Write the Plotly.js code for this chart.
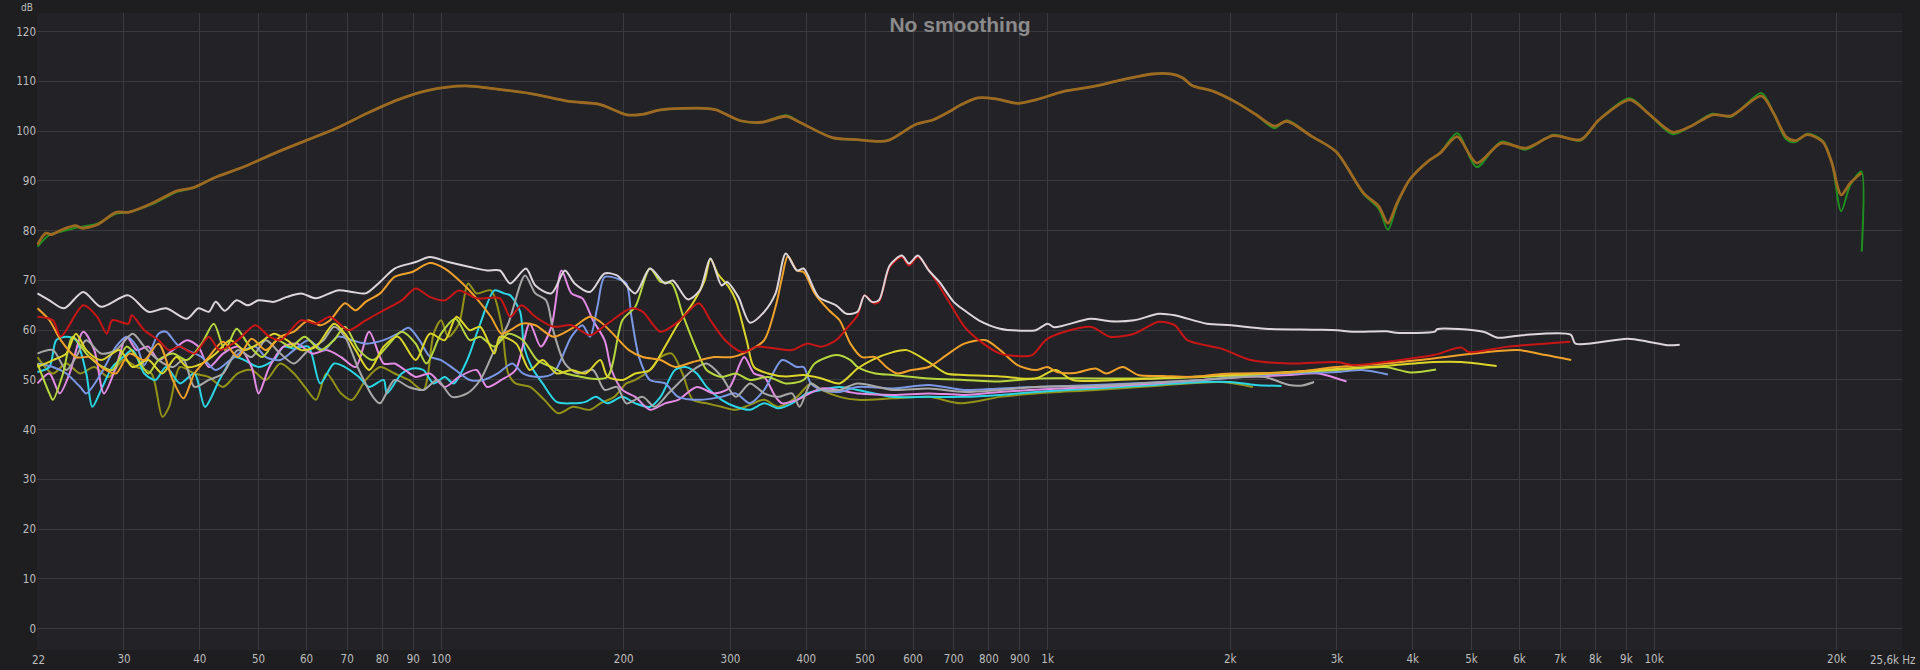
<!DOCTYPE html>
<html>
<head>
<meta charset="utf-8">
<script src="https://cdn.plot.ly/plotly-3.0.1.min.js"></script>
<style>
  html, body { margin: 0; padding: 0; background: #1e1d20; }
  #chart { width: 1920px; height: 670px; }
</style>
</head>
<body>
<div id="chart"></div>
<script>
// ---- Data (frequency Hz, level dB) ----
const topPts = [[21.6,77.2],[22.3,79.5],[22.8,79.2],[23.6,80.1],[25,81],[25.6,80.5],[27.1,81.2],[29.1,83.7],[30.5,83.7],[33.5,85.6],[36.7,88],[38.9,88.6],[42.2,90.6],[47.4,92.9],[53.2,95.6],[59.8,98.1],[67.2,100.6],[75.5,103.6],[84.8,106.3],[95.2,108.2],[109.5,109.1],[122.9,108.5],[141.3,107.5],[162.5,106],[182.5,105.4],[202.6,103.3],[214.8,103.4],[230.2,104.3],[271,104.6],[284,104.3],[311.6,102.1],[338,101.8],[371,103],[393,101.6],[441.6,98.7],[484.6,98.3],[544.4,98.1],[604.5,101.3],[648,102.3],[690,104],[719.4,105.3],[767,106.7],[822,106.5],[892,105.6],[956,106.3],[1062,108],[1179,108.9],[1324,110.3],[1487,111.5],[1595,111.5],[1671,110.7],[1730,109.2],[1877,108],[2060,105.6],[2208,103.3],[2367,101],[2480,102],[2722,99],[2988,95.9],[3316,87.6],[3516,84.9],[3640,81.5],[3770,85.6],[3950,90.2],[4233,93.9],[4436,95.6],[4734,98.9],[5100,93.6],[5595,97.6],[6142,96.6],[6820,99.1],[7570,98.3],[8115,102.3],[9118,106.3],[9777,103.6],[10730,99.8],[11500,101],[12480,103.3],[13390,103.1],[15030,107.1],[15740,103.6],[16500,98.9],[17080,98.1],[17890,99.3],[18970,97.9],[19640,93.6],[20340,87.2],[21060,89.6],[21960,91.6]];

const greenPts = [[21.6,76.8],[22.3,78.6],[22.8,79.4],[23.6,79.8],[25,80.6],[25.6,80.8],[27.1,81.4],[29.1,83.4],[30.5,83.7],[33.5,85.4],[36.7,87.8],[38.9,88.5],[42.2,90.6],[47.4,92.9],[53.2,95.6],[59.8,98.1],[67.2,100.6],[75.5,103.6],[84.8,106.3],[95.2,108.2],[109.5,109.1],[122.9,108.5],[141.3,107.5],[162.5,106],[182.5,105.4],[202.6,103.3],[214.8,103.4],[230.2,104.3],[271,104.6],[284,104.3],[311.6,102.1],[338,101.8],[371,103.2],[393,101.6],[441.6,98.7],[484.6,98.3],[544.4,98.1],[604.5,101.3],[648,102.3],[690,104],[719.4,105.3],[767,106.7],[822,106.5],[892,105.6],[956,106.3],[1062,108],[1179,108.9],[1324,110.3],[1487,111.5],[1595,111.5],[1671,110.7],[1730,109.2],[1877,108],[2060,105.6],[2208,103.3],[2367,100.6],[2480,102.2],[2722,99],[2988,95.9],[3316,87.4],[3516,84.4],[3640,80.2],[3770,85.2],[3950,90.2],[4233,93.9],[4436,95.6],[4734,99.6],[5100,92.8],[5595,97.9],[6142,96.3],[6820,99.3],[7570,98.1],[8115,102.3],[9118,106.6],[9777,103.6],[10730,99.4],[11500,101],[12480,103.5],[13390,102.9],[15030,107.7],[15740,103.6],[16500,98.4],[17080,97.8],[17890,99.5],[18970,98.1],[19640,93.6],[20340,83.9],[21060,89.2],[21960,91.9],[21990,75.8]];

const whitePts = [[21.6,67.4],[22.6,66],[23.9,64.4],[25.7,67.7],[27.5,64.7],[30.5,67],[32.9,63.7],[35.2,64.4],[38.1,62.3],[39.8,64.4],[41.4,63.7],[42.5,65.7],[44,63.9],[46,66],[48,65],[50,66],[53,65.7],[55.7,66.7],[58.8,67.4],[62.2,66.4],[67.5,68],[71.3,67.7],[75.1,67.4],[79.3,69.7],[83.8,72.4],[90.8,73.7],[95.8,74.7],[102.8,73.7],[111.5,72.7],[119,72],[125,72],[130,69.4],[138,72.4],[143,69],[152,67.4],[160,72],[166,69.4],[176,67.7],[186,71.4],[195,71],[209,67.4],[221,72.4],[234,69.4],[241,70],[255,66.2],[267,68],[278,74.4],[290,69],[296,69.7],[309,66.7],[323,61.5],[341,63.7],[356,67.4],[370,75.4],[386,72],[396,72.4],[419,66.7],[448,65],[466,63.3],[486,63.7],[499,67],[513,65.7],[527,66],[549,73],[575,75],[591,73.4],[611,75],[637,72],[663,69.7],[700,65.7],[729,64],[770,62],[835,60.3],[905,59.9],[956,60],[1000,61.3],[1025,60.6],[1177,62.3],[1266,61.8],[1389,62],[1525,63.3],[1620,63],[1830,61.3],[2008,61],[2284,60.3],[2745,60.1],[3003,60],[3181,59.7],[3619,59.8],[3755,59.5],[4349,59.7],[4388,60.2],[5229,59.7],[5525,58.5],[6059,59],[7285,59.1],[7420,57.3],[9050,58.3],[9772,57.7],[10520,57],[11020,57.1]];

const grayPts = [[21.6,55.3],[22.9,56],[24.1,52],[25,54.6],[26,58],[27.5,55.3],[29.1,56],[31,59.3],[32.4,56.7],[34.2,54],[36.1,52.6],[37.6,54],[39.2,48.6],[41.4,50],[43.7,51.3],[46.2,56],[48.7,54.6],[51.4,58],[54.3,55.3],[57.2,53.3],[60.4,56],[64,58],[66.6,60.7],[69.4,58.7],[73.2,52],[77.2,46.6],[79.3,45.3],[83.8,50],[88.4,48.6],[93.5,48],[98.6,50],[104.2,46.6],[110.4,47.3],[116,50],[122.4,56],[129,61.3],[137.5,71],[143,67.4],[149,66],[153,60],[160,53.3],[168,51.3],[178,52],[186,48],[195,48.6],[202,45.3],[215,46.6],[225,44.6],[237,47.3],[246,49.3],[260,52],[274,53.3],[290,50.7],[306,46.6],[323,49.3],[341,47.3],[360,46.6],[379,47.3],[390,44.6],[407,49.3],[424,48],[454,48],[486,49.3],[556,48],[637,48.3],[729,47.6],[835,48],[956,48.6],[1200,48.8],[1500,49.5],[1800,50],[2100,50.6],[2280,50.6],[2500,49],[2630,48.9],[2750,49.6]];

const redPts = [[21.6,62.7],[22.9,62],[23.6,58.7],[25.7,65],[27.1,62.7],[28.1,59.3],[28.7,62],[30.5,61.3],[30.9,63],[32.4,60],[34.2,58],[35.6,56],[37.1,56.7],[39.2,55.3],[41.4,58.7],[43.1,56],[46.2,58],[49.4,61],[52.1,58.7],[54.3,58],[58.8,62],[62.2,61.3],[65.6,62.7],[70.3,60],[75.1,62],[80.4,64],[86.1,66],[90.8,68.4],[95.8,66.7],[101.4,66],[107,68],[114.4,66.4],[125,66.4],[130,62.7],[135.7,65],[143,62.7],[153,60.7],[164,61],[176,59],[188,61.3],[206,64.4],[215,63.7],[230,59.7],[246,61.7],[266,65.4],[278,62],[294,58],[314,55.6],[332,56.7],[356,56.3],[379,56],[401,57.3],[424,56.7],[448,58],[466,60.3],[486,63],[499,67],[517,65.4],[527,65.7],[549,72.7],[575,74.7],[591,73],[611,74.7],[646,71],[690,65.4],[729,60.7],[770,58],[835,55.3],[892,54.8],[943,55],[1000,58.3],[1177,60.7],[1266,58.7],[1389,59.3],[1525,61.7],[1620,61],[1700,58],[1935,56.3],[2162,54],[2506,53.3],[3003,53.6],[3180,53],[3968,54.3],[4330,55],[4810,56.5],[4950,55.6],[5746,56.7],[7278,57.7]];

const orangePts = [[21.6,64.4],[22.6,62],[23.6,58],[25,54.6],[26.4,54.6],[27.5,52.6],[29.1,51.3],[30.6,55.3],[32.4,54],[34.2,57.3],[36.1,50],[37.6,46.3],[39.2,51.3],[41.4,54.6],[43.7,57.7],[46.2,54.6],[48.7,58.3],[51.4,56],[54.3,58.7],[57.2,59.7],[60.4,62],[63.2,61],[65.6,62],[69.4,65.4],[72.3,64],[75.1,65.7],[79.3,67.4],[83.8,70.7],[89.6,71.7],[95.8,73.5],[101.4,72.4],[108.5,69.4],[114.4,66.4],[120.8,62.7],[125.7,59.3],[130,60],[135.7,61.3],[143,61],[153,58.7],[164,60.3],[176,62.7],[183,61.7],[193,59],[204,56],[215,54.6],[230,54],[243,52.6],[260,53.6],[282,54.6],[302,54.6],[323,56],[341,58],[356,64.7],[365,70.7],[373,74.9],[386,72],[396,71.7],[413,67.4],[436,64],[454,62],[473,57.3],[494,54.6],[520,54.6],[542,52.6],[565,51.3],[596,52],[637,52.6],[681,55],[729,57.3],[791,58],[835,56],[892,53],[956,52],[1000,52.6],[1036,51.6],[1110,51.4],[1200,52.3],[1250,51.3],[1330,52.6],[1410,51],[1550,50.8],[1730,50.6],[1935,51.2],[2080,51.3],[2500,51.5],[3000,52.6],[3600,53.3],[4330,54.3],[5040,55.3],[5950,56],[6630,55],[7300,54]];

const yellowPts = [[21.6,52.6],[22.9,54],[24.1,55.3],[25,59.3],[26,56],[27.5,54],[29.5,56],[31,52.6],[32.9,54],[34.7,51.3],[36.6,54.6],[38.1,52.6],[40.3,53.3],[42.5,55.3],[44.9,58],[47.4,56],[50,57.3],[53,59.3],[55.7,58],[58.8,56],[62.2,56.7],[66.6,61.3],[69.4,59.3],[72.3,56],[76.1,52],[80.4,56.7],[84.9,58.7],[90.8,54],[95.8,59.3],[101.4,58],[106,62.7],[111.5,60],[116,60.7],[122.4,55.3],[125,58.7],[133,57.3],[140,52],[147,54],[155,51.3],[164,52],[173,51.3],[183,54],[188,50.7],[199,50],[209,51.3],[221,52],[234,56.7],[246,61.3],[260,65.4],[272,70],[278,74.3],[286,71.3],[298,68.7],[306,66],[319,58],[328,52.6],[346,51.3],[370,50.7],[396,51],[424,50.3],[454,49.3],[486,52.3],[513,54],[556,55.6],[586,56],[637,53.6],[681,51.3],[729,51],[835,50.7],[956,50.3],[1030,52],[1100,50],[1300,50],[1500,50.3],[1700,50.6],[2000,51],[2500,51.6],[3000,52.2],[3600,52.8],[4330,53.6],[4810,53.6],[5500,52.8]];

const limePts = [[21.6,53.3],[22.6,47.3],[22.9,46],[23.8,51.3],[24.7,58.7],[26,55.3],[27.1,53.3],[28.7,52],[30.3,56.7],[31.5,54.6],[32.9,51.3],[34.2,54],[36.1,55.3],[38.1,54],[40.3,57.3],[42.2,61.3],[44,56],[46,60.3],[48,57.3],[50.7,54.6],[53.6,58],[56.5,56.7],[59.6,58.7],[63.2,56],[66.6,58],[69.4,60.7],[73.2,56],[77.2,54],[81.4,56.7],[86.1,59.7],[90.8,57.3],[94.6,53.3],[100,59.3],[105.6,62.3],[111.5,58],[116,58.7],[122.4,56.7],[129,59.3],[136.4,58],[144,54],[152,52.6],[160.6,51.3],[169,50.7],[176,50.3],[188,50.6],[199,62],[209,64.7],[221,72.4],[230,69.7],[240,69.4],[250,63.3],[264,56],[274,52],[290,50.6],[306,51.3],[323,50],[346,50.6],[370,49.3],[396,50],[413,53.3],[448,55],[473,54],[486,52.6],[520,51.3],[556,51],[637,50.3],[729,50],[835,49.7],[956,50.3],[1200,50.3],[1500,50.3],[1800,50.6],[2100,51],[2500,51.5],[3000,52],[3600,52.6],[3970,51.5],[4370,52.1]];

const olivePts = [[21.6,54.6],[22.9,51.3],[24.1,53.3],[25.4,51.3],[26.8,52.6],[28.3,50.6],[29.9,54],[31.5,52.6],[33.3,51.3],[34.7,42.6],[35.6,44.6],[37.1,52.6],[39.2,51.3],[41.4,50.6],[43.7,48.6],[46.2,51.3],[48.7,52],[51.4,50],[54.3,53.3],[57.2,51.3],[59.6,48.6],[62.2,46],[64.7,51.3],[68.4,47.3],[71.3,46],[75.1,50],[79.3,52.6],[83.8,51.3],[88.4,50],[93.5,48],[97.2,59.3],[100,62],[102.8,58.7],[107,61.3],[110.8,69.4],[114.4,67.4],[120.8,68],[125.7,61.3],[129,51.3],[132.7,49.3],[140.2,48.6],[148,46],[156,43.3],[165,44.6],[176,44],[183,45.3],[193,46.6],[202,49.3],[209,50],[221,52],[230,54.6],[240,55.3],[250,51.3],[260,46],[274,45.3],[290,44.6],[306,44],[323,45],[341,46],[360,44.6],[386,46.6],[407,49.3],[424,48],[454,46.6],[486,46],[556,46.3],[637,46.6],[720,45.3],[835,46.6],[956,47.3],[1200,48],[1500,48.8],[1935,49.6],[2180,48.6]];

const bluePts = [[21.6,53.3],[22.9,52.6],[24.1,51.3],[25.4,48.6],[26,47.3],[27.5,51.3],[29.1,56.7],[30.3,58.7],[31.5,56.7],[32.4,53],[34.2,59.3],[35.2,59.7],[36.6,57.3],[38.1,56],[40.3,54.6],[42.5,52],[44.9,54],[47.4,56],[49.4,56.7],[51.4,54.6],[54.3,54],[57.2,56],[60.4,58],[64,56],[67.5,58.7],[71.3,58],[75.1,57.3],[80.4,58],[84.9,59.3],[88.4,60.5],[92.1,58],[95.8,54.7],[100,54],[105.6,52],[111.5,50],[117.5,50],[124,51.3],[131,53.3],[136.4,51.3],[144,50.6],[153,51.3],[164,58.7],[171,61],[176,58.7],[181,64.7],[186,70.7],[195,70.4],[202,69.4],[206,62.7],[212,54.6],[221,50],[234,49.3],[246,46.6],[267,46],[290,46.6],[306,47.3],[323,45.3],[341,48],[365,54],[386,52.6],[396,52.6],[407,49.3],[424,48],[454,47.6],[486,48.6],[556,48.3],[637,49],[729,48],[835,48.3],[956,48.6],[1200,49],[1500,49.5],[1800,50],[2100,50.8],[2500,51.3],[3000,51.6],[3300,52],[3640,51.1]];

const pinkPts = [[21.6,49.3],[22.6,51.3],[23.5,47.3],[24.4,51.3],[25.7,59.7],[26.8,56],[27.8,47.3],[29.1,52.6],[30.3,58.7],[31.5,56],[32.9,56.7],[34.2,54],[36.1,56],[38.1,58],[39.8,56.7],[41.4,52.6],[43.7,55.3],[46.2,56.7],[48.7,52.6],[50,47.3],[52.1,52.6],[55,56.7],[57.9,57.3],[61.3,55.3],[64.7,56],[68.4,54.6],[72.3,52.6],[76.1,59.7],[80.4,53.3],[83.8,53.3],[87.2,52],[90.8,50.6],[95.8,51.3],[101.4,48.6],[107,50.6],[114.4,52],[119,48.6],[125.7,50],[132.7,52],[140,61.3],[146,56.7],[152,60.7],[158,72],[164,67.4],[171,66.4],[178,62],[186,58],[191,52],[199,48],[209,46.6],[221,44],[234,45.3],[246,46],[264,48.6],[282,47.3],[298,48.3],[316,54.6],[328,51.3],[341,50.6],[356,46.6],[365,45.3],[386,46],[424,48.3],[486,47.3],[556,47],[637,47.3],[729,47],[835,47.6],[1048,48.3],[1200,48.6],[1500,49.3],[1800,50],[2100,50.6],[2500,51],[2800,51.3],[3000,50.3],[3110,49.7]];

const cyanPts = [[21.6,51.6],[22.6,52.6],[23.2,58],[24.1,58.7],[25,58],[26,51.3],[26.6,44.6],[27.5,48],[28.7,52.6],[29.9,54.6],[31,56],[32.4,51.3],[33.8,50],[35.2,52.6],[37.1,49.3],[39.2,51.3],[40.8,44.6],[43.1,50],[45.6,54.6],[47.4,54],[50,52.6],[53,54],[55,56.7],[57.2,56.3],[60.4,56.7],[63.2,49.3],[66.6,53.3],[69.4,52.6],[73.2,50.6],[76.1,48.6],[80.4,50],[81.4,47.3],[86.1,51.3],[89.6,52.3],[93.5,52],[97.2,49.3],[101.4,50.6],[104.9,49.3],[110.4,54],[116,61.3],[122.4,68],[127,67.4],[130,67],[135,63.7],[137,56.7],[141,52.6],[147,49.3],[155,45.6],[164,45.3],[173,45.6],[180,46.6],[188,45.3],[199,46.6],[209,45.3],[221,44.6],[230,46.6],[243,52],[253,52.6],[264,51.3],[274,48.6],[290,46],[306,44.6],[323,44],[341,45.3],[360,44.3],[379,45.3],[401,47.3],[424,48],[454,48.6],[486,48],[556,46.6],[637,46.6],[729,46.6],[835,47],[956,47.6],[1200,48.3],[1500,49],[1800,49.6],[2000,49.6],[2200,49],[2430,48.8]];

const xTickVals = [30,40,50,60,70,80,90,100,200,300,400,500,600,700,800,900,1000,2000,3000,4000,5000,6000,7000,8000,9000,10000,20000];
const xTickText = ['30','40','50','60','70','80','90','100','200','300','400','500','600','700','800','900','1k','2k','3k','4k','5k','6k','7k','8k','9k','10k','20k'];
const yTickVals = [0,10,20,30,40,50,60,70,80,90,100,110,120];

// ---- Traces ----
function mk(pts, color, width) {
  return {
    x: pts.map(p => p[0]),
    y: pts.map(p => p[1]),
    type: 'scatter',
    mode: 'lines',
    line: { color: color, width: width, shape: 'spline', smoothing: 0.8 },
    hoverinfo: 'skip'
  };
}

const data = [
  mk(olivePts,  '#929218', 2),
  mk(cyanPts,   '#2ad6e6', 2),
  mk(pinkPts,   '#e48be6', 2),
  mk(bluePts,   '#7a98e6', 2),
  mk(grayPts,   '#a8a8a8', 2),
  mk(limePts,   '#b6d63e', 2),
  mk(yellowPts, '#dcd52a', 2),
  mk(orangePts, '#f0a12a', 2),
  mk(redPts,    '#c81616', 2),
  mk(whitePts,  '#dcd6da', 2),
  mk(greenPts,  '#1f8f1f', 2.0),
  mk(topPts,    '#9e6a22', 2.8)
];

const labelFont = { family: 'Liberation Sans Narrow, DejaVu Sans Condensed, Liberation Sans, Arial, sans-serif', size: 11.5, color: '#bdbdbd' };

const layout = {
  width: 1920,
  height: 670,
  paper_bgcolor: '#1e1d20',
  plot_bgcolor: '#232226',
  margin: { l: 37, r: 18, t: 13, b: 20, pad: 0 },
  showlegend: false,
  hovermode: false,
  font: { family: 'Liberation Sans, Arial, sans-serif', color: '#bdbdbd' },
  title: {
    text: '<b>No smoothing</b>',
    font: { family: 'Liberation Sans, Arial, sans-serif', size: 21, color: '#8b8b8b' },
    x: 0.5, xref: 'container', xanchor: 'center',
    y: 1 - 25 / 670, yref: 'container', yanchor: 'middle'
  },
  xaxis: {
    type: 'log',
    range: [1.3337, 4.4087],
    tickmode: 'array',
    tickvals: xTickVals,
    ticktext: xTickText,
    showgrid: true,
    gridcolor: '#3a393e',
    gridwidth: 1,
    zeroline: false,
    showline: false,
    ticks: '',
    tickfont: labelFont,
    fixedrange: true
  },
  yaxis: {
    range: [-4.28, 123.76],
    tickmode: 'array',
    tickvals: yTickVals,
    showgrid: true,
    gridcolor: '#3a393e',
    gridwidth: 1,
    zeroline: false,
    showline: false,
    ticks: '',
    tickfont: labelFont,
    fixedrange: true
  },
  annotations: [
    { text: 'dB', xref: 'paper', yref: 'paper', x: (27 - 37) / 1865, y: 650 / 637,
      xanchor: 'center', yanchor: 'top', showarrow: false,
      font: { family: labelFont.family, size: 10, color: '#bdbdbd' } },
    { text: '22', xref: 'paper', yref: 'paper', x: (38 - 37) / 1865, y: (650 - 660) / 637,
      xanchor: 'center', yanchor: 'middle', showarrow: false, font: labelFont },
    { text: '25,6k Hz', xref: 'paper', yref: 'paper', x: (1918 - 37) / 1865, y: (650 - 660) / 637,
      xanchor: 'right', yanchor: 'middle', showarrow: false, font: labelFont }
  ]
};

Plotly.newPlot('chart', data, layout, { staticPlot: true, displayModeBar: false });
</script>
</body>
</html>
